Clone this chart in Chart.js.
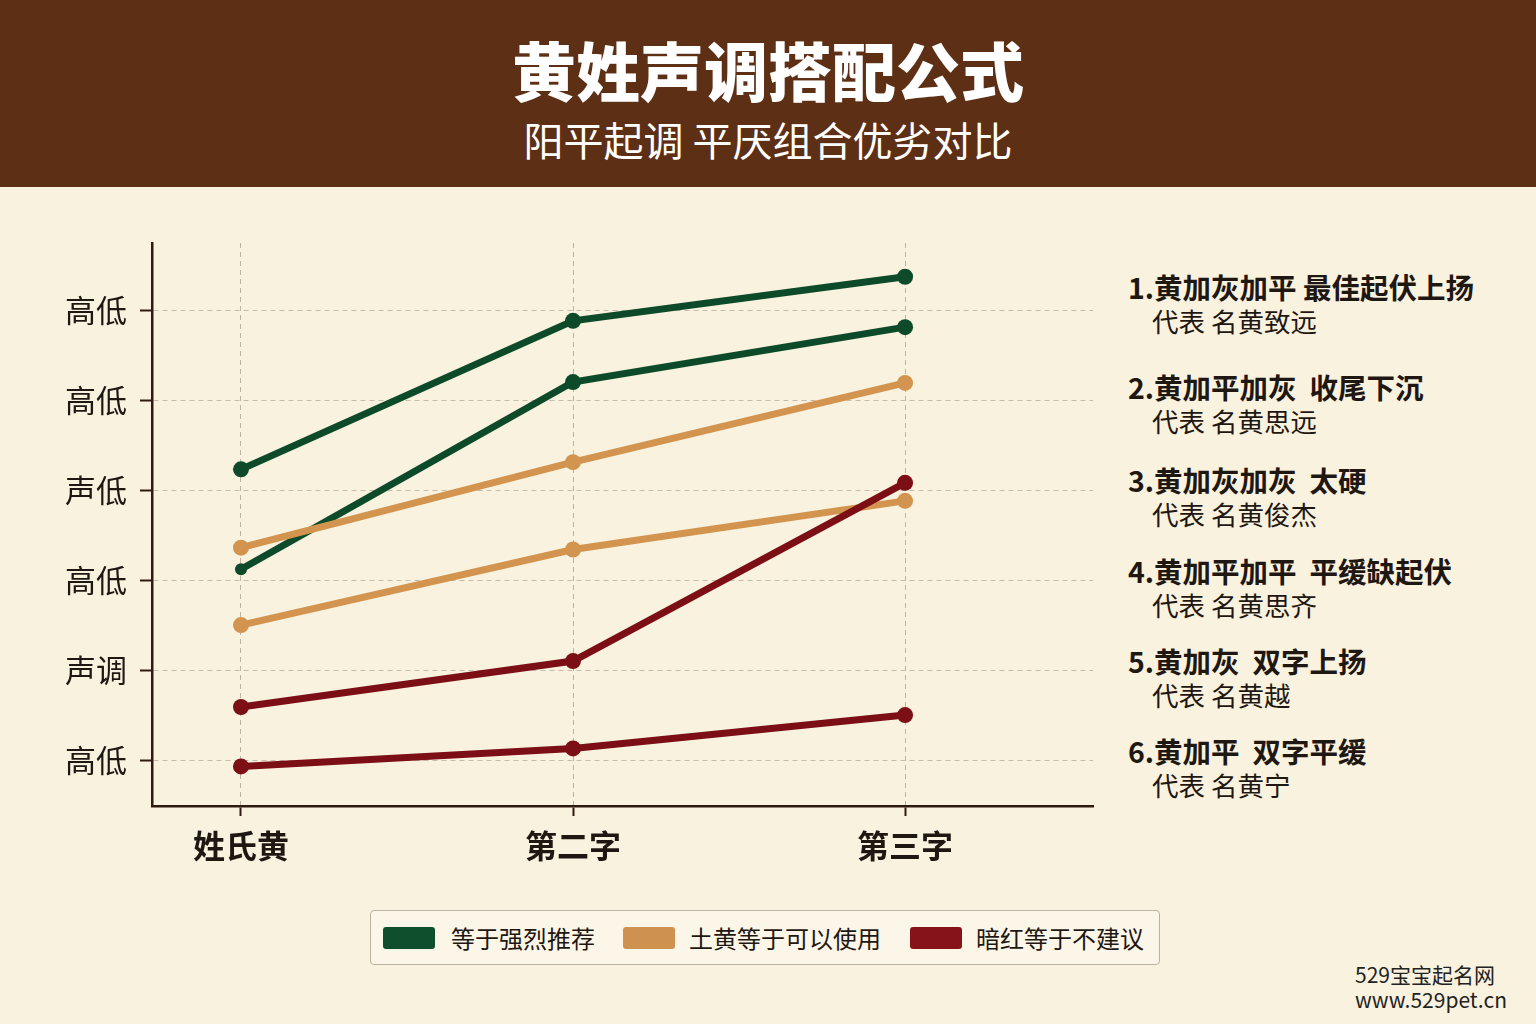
<!DOCTYPE html>
<html>
<head>
<meta charset="utf-8">
<script src="https://cdn.jsdelivr.net/npm/chart.js@4.4.1/dist/chart.umd.min.js"></script>
<style>
  html, body { margin: 0; padding: 0; }
  body {
    width: 1536px; height: 1024px; position: relative; overflow: hidden;
    background: #f9f2df;
    font-family: "Noto Sans CJK SC", "Noto Sans", sans-serif;
  }
  #header {
    position: absolute; left: 0; top: 0; width: 1536px; height: 187px;
    background: #5d2f15; color: #fff; text-align: center;
  }
  #title { position: absolute; left: 0; width: 100%; top: 26px; font-size: 64px; font-weight: 900; line-height: 84px; }
  #subtitle { position: absolute; left: 0; width: 100%; top: 114px; font-size: 40px; line-height: 50px; }
  #chartWrap { position: absolute; left: 0; top: 200px; width: 1110px; height: 700px; }
  .note { position: absolute; color: #1f1712; white-space: nowrap; }
  .note .head { position: absolute; left: 1128px; font-size: 28.5px; font-weight: 700; line-height: 36px; }
  .note .sub { position: absolute; left: 1152px; font-size: 26.5px; line-height: 32px; }
  #legend {
    position: absolute; left: 370px; top: 910px; width: 788px; height: 53px;
    border: 1.5px solid #bdb2a0; border-radius: 4px; background: #fbf6e7;
  }
  .lg { position: absolute; top: 0; height: 53px; line-height: 53px; font-size: 24px; color: #1f1712; }
  .sw { position: absolute; top: 16px; width: 52px; height: 22px; border-radius: 3px; }
  #mark { position: absolute; left: 1355px; top: 962px; color: #222; font-size: 21px; line-height: 25px; }
</style>
</head>
<body>
<div id="header">
  <div id="title">黄姓声调搭配公式</div>
  <div id="subtitle">阳平起调 平厌组合优劣对比</div>
</div>
<div id="chartWrap"><canvas id="chart"></canvas></div>
<div id="notes"></div>
<div id="legend"></div>
<div id="mark">529宝宝起名网<br>www.529pet.cn</div>

<script>
// x categories and y tick labels (y values 1..6, bottom to top)
const categories = ['姓氏黄', '第二字', '第三字'];
const yTickLabels = ['高低', '声调', '高低', '声低', '高低', '高低'];

// series values
const greenA = [4.23, 5.88, 6.37];
const greenB = [3.12, 5.20, 5.81];
const tanA = [3.36, 4.31, 5.19];
const tanB = [2.50, 3.34, 3.88];
const redA = [1.59, 2.10, 4.08];
const redB = [0.93, 1.13, 1.50];

const noteHeads = ['1.黄加灰加平 最佳起伏上扬', '2.黄加平加灰  收尾下沉', '3.黄加灰加灰  太硬',
  '4.黄加平加平  平缓缺起伏', '5.黄加灰  双字上扬', '6.黄加平  双字平缓'];
const noteSubs = ['代表 名黄致远', '代表 名黄思远', '代表 名黄俊杰', '代表 名黄思齐', '代表 名黄越', '代表 名黄宁'];
const noteY = [287, 387, 480, 571, 661, 751];

const legendLabels = ['等于强烈推荐', '土黄等于可以使用', '暗红等于不建议'];

const GREEN = '#0d4a2a';
const TAN = '#d3944f';
const RED = '#7b0f15';

// side notes
const notes = document.getElementById('notes');
noteHeads.forEach(function (h, i) {
    const d = document.createElement('div');
    d.className = 'note';
    d.innerHTML = '<div class="head" style="top:' + (noteY[i] - 18) + 'px">' + h.replace(/  /g, '&nbsp; ') + '</div>' +
        '<div class="sub" style="top:' + (noteY[i] + 34 - 16) + 'px">' + noteSubs[i] + '</div>';
    notes.appendChild(d);
});

// legend
const legendColors = ['#0f4f2e', '#cf9150', '#86121a'];
const swX = [12, 252, 539];
const txX = [80, 318, 605];
const legend = document.getElementById('legend');
legendLabels.forEach(function (t, i) {
    legend.innerHTML += '<div class="sw" style="left:' + swX[i] + 'px;background:' + legendColors[i] + '"></div>' +
        '<div class="lg" style="left:' + txX[i] + 'px">' + t + '</div>';
});

function pts(arr) {
    return arr.map(function (v, i) { return { x: i, y: v }; });
}

function line(arr, color, order, radius) {
    return {
        data: pts(arr),
        borderColor: color,
        backgroundColor: color,
        borderWidth: 7,
        pointRadius: radius || 8,
        pointBorderWidth: 0,
        order: order,
        fill: false
    };
}

const ctx = document.getElementById('chart').getContext('2d');
new Chart(ctx, {
    type: 'line',
    data: {
        datasets: [
            line(greenA, GREEN, 3),
            line(greenB, GREEN, 3, [6, 8, 8]),
            line(tanA, TAN, 2),
            line(tanB, TAN, 2),
            line(redA, RED, 1),
            line(redB, RED, 1)
        ]
    },
    options: {
        responsive: true,
        maintainAspectRatio: false,
        animation: false,
        layout: { padding: { top: 43, right: 17, left: 0, bottom: 0 } },
        plugins: { legend: { display: false }, tooltip: { enabled: false } },
        scales: {
            x: {
                type: 'linear',
                min: -0.268,
                max: 2.566,
                afterBuildTicks: function (scale) {
                    scale.ticks = categories.map(function (c, i) { return { value: i }; });
                },
                afterFit: function (scale) { scale.height = 94; },
                ticks: {
                    callback: function (v) { return categories[v]; },
                    font: { family: 'Noto Sans CJK SC', size: 32, weight: 'bold' },
                    color: '#1f1712',
                    padding: 11,
                    maxRotation: 0
                },
                grid: {
                    color: '#bdb3a4',
                    lineWidth: 1,
                    tickLength: 10,
                    tickColor: '#2e1a10',
                    tickWidth: 2
                },
                border: { color: '#2e1a10', width: 2.5, dash: [5, 4] }
            },
            y: {
                min: 0.49,
                max: 6.745,
                afterBuildTicks: function (scale) {
                    scale.ticks = yTickLabels.map(function (t, i) { return { value: i + 1 }; });
                },
                afterFit: function (scale) { scale.width = 152; },
                ticks: {
                    callback: function (v) { return yTickLabels[v - 1]; },
                    font: { family: 'Noto Sans CJK SC', size: 31 },
                    color: '#1f1712',
                    padding: 13
                },
                grid: {
                    color: '#c7bcab',
                    lineWidth: 1,
                    tickLength: 12,
                    tickColor: '#2e1a10',
                    tickWidth: 2
                },
                border: { color: '#2e1a10', width: 2.5, dash: [5, 4] }
            }
        }
    }
});
</script>
</body>
</html>
